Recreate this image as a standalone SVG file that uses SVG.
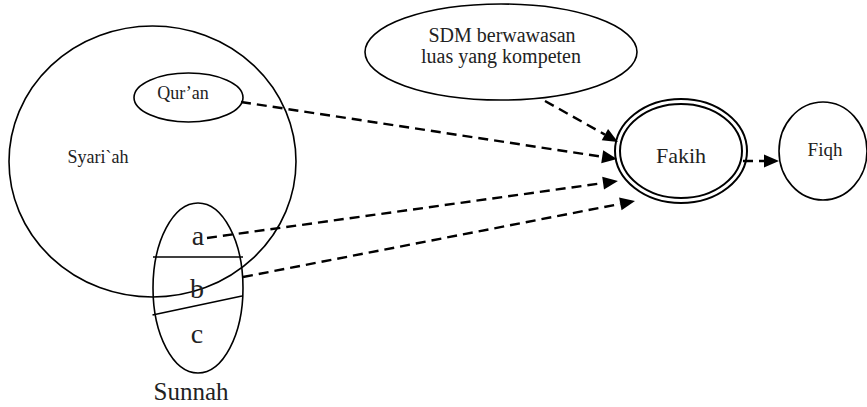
<svg xmlns="http://www.w3.org/2000/svg" width="867" height="407" viewBox="0 0 867 407">
<style>
.shape{fill:none;stroke:#000;stroke-width:1.6}
.dbl{fill:none;stroke:#000;stroke-width:2}
.conn{fill:none;stroke:#000;stroke-width:2.4;stroke-dasharray:10 6;marker-end:url(#ah)}
text{font-family:"Liberation Serif","Times New Roman",serif;fill:#222;text-anchor:middle}
</style>
<defs>
<marker id="ah" markerUnits="userSpaceOnUse" markerWidth="15" markerHeight="13" refX="0" refY="6.5" orient="auto" overflow="visible">
<path d="M0,0 L15,6.5 L0,13 Z" fill="#000"/>
</marker>
</defs>
<g id="syariah">
<ellipse class="shape" cx="152.5" cy="161.5" rx="143.5" ry="135.5"/>
<text x="98" y="162.5" font-size="18">Syari`ah</text>
</g>
<g id="quran">
<ellipse class="shape" cx="188.5" cy="97.5" rx="54.5" ry="24.5"/>
<text x="183" y="99" font-size="18">Qur’an</text>
</g>
<g id="sunnah">
<ellipse class="shape" cx="198" cy="288" rx="45" ry="85"/>
<line class="shape" x1="153" y1="257" x2="243" y2="257"/>
<line class="shape" x1="152.5" y1="315" x2="242" y2="296"/>
<text x="198" y="245" font-size="28">a</text>
<text x="197" y="298" font-size="28">b</text>
<text x="197" y="343" font-size="28">c</text>
<text x="191" y="400" font-size="25">Sunnah</text>
</g>
<g id="sdm">
<ellipse class="shape" cx="501" cy="52" rx="136" ry="48"/>
<text x="502" y="42" font-size="20">SDM berwawasan</text>
<text x="501" y="63" font-size="20">luas yang kompeten</text>
</g>
<g id="fakih">
<ellipse class="dbl" cx="681" cy="151" rx="66" ry="52"/>
<ellipse class="dbl" cx="681" cy="151" rx="61" ry="47"/>
<text x="681" y="162.5" font-size="22">Fakih</text>
</g>
<g id="fiqh">
<ellipse class="shape" cx="823" cy="151" rx="44" ry="49"/>
<text x="825" y="156" font-size="19">Fiqh</text>
</g>
<g id="connectors">
<line class="conn" x1="545" y1="101" x2="604.9" y2="134.6"/>
<line class="conn" x1="241" y1="102" x2="602.2" y2="156.8"/>
<line class="conn" x1="207" y1="238" x2="603.1" y2="183.1"/>
<line class="conn" x1="243" y1="277" x2="620.3" y2="203.9"/>
<line class="conn" x1="743" y1="161" x2="764" y2="161" stroke-dasharray="12 8"/>
</g>
</svg>
